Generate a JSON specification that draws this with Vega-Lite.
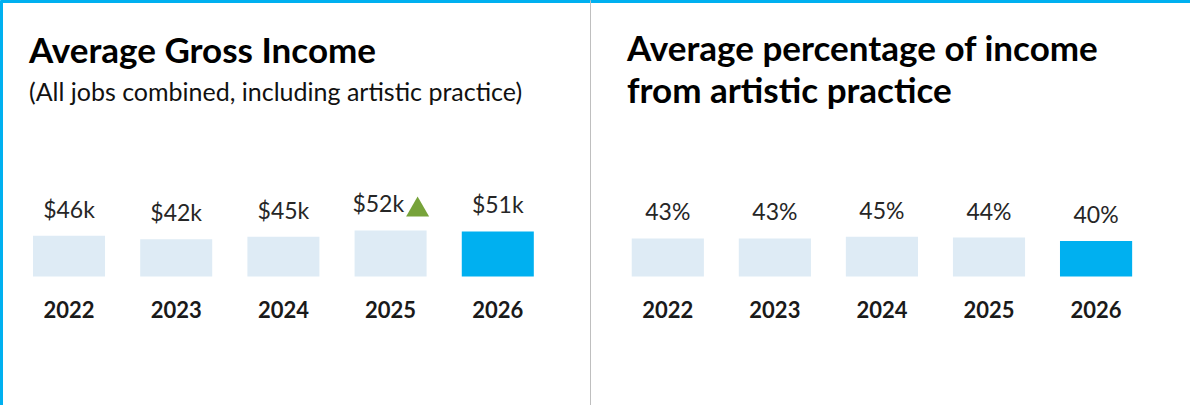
{
  "$schema": "https://vega.github.io/schema/vega-lite/v6.json",
  "background": "white",
  "padding": 0,
  "bounds": "flush",
  "spacing": 0,
  "config": {"view": {"stroke": null}, "font": "Lato"},
  "datasets": {
    "income": [
      {"year": "2022", "value": 46, "label": "$46k", "status": "past", "trend": "none"},
      {"year": "2023", "value": 42, "label": "$42k", "status": "past", "trend": "none"},
      {"year": "2024", "value": 45, "label": "$45k", "status": "past", "trend": "none"},
      {"year": "2025", "value": 52, "label": "$52k", "status": "past", "trend": "up"},
      {"year": "2026", "value": 51, "label": "$51k", "status": "current", "trend": "none"}
    ],
    "share": [
      {"year": "2022", "value": 43, "label": "43%", "status": "past"},
      {"year": "2023", "value": 43, "label": "43%", "status": "past"},
      {"year": "2024", "value": 45, "label": "45%", "status": "past"},
      {"year": "2025", "value": 44, "label": "44%", "status": "past"},
      {"year": "2026", "value": 40, "label": "40%", "status": "current"}
    ]
  },
  "hconcat": [
    {
      "width": 590,
      "height": 410,
      "data": {"name": "income"},
      "title": {
        "text": "Average Gross Income",
        "subtitle": "(All jobs combined, including artistic practice)",
        "orient": "top",
        "anchor": "start",
        "frame": "group",
        "offset": -106,
        "dx": 29,
        "font": "Lato",
        "fontSize": 35,
        "fontWeight": "bold",
        "color": "#000000",
        "subtitleFont": "Lato",
        "subtitleFontSize": 25,
        "subtitleColor": "#111111",
        "subtitlePadding": 11
      },
      "layer": [
        {
          "mark": {"type": "bar"},
          "encoding": {
            "x": {
              "field": "year", "type": "ordinal",
              "scale": {"paddingInner": 0.328, "paddingOuter": 0.416, "align": 0.37},
              "axis": {"orient": "bottom", "title": null, "domain": false, "ticks": false, "tickSize": 0, "labelPadding": 0, "offset": -93, "labelBaseline": "alphabetic", "labelAngle": 0, "labelFont": "Lato", "labelFontSize": 22, "labelFontWeight": "bold", "labelColor": "#1a1a1a"}
            },
            "y": {
              "field": "value", "type": "quantitative",
              "scale": {"domain": [-150.8, 312.4], "nice": false, "zero": false},
              "axis": {"orient": "left", "title": null, "labels": false, "ticks": false, "grid": false, "domain": true, "domainColor": "#00B0F0", "domainWidth": 5}
            },
            "y2": {"datum": 0},
            "color": {"field": "status", "type": "nominal", "scale": {"domain": ["past", "current"], "range": ["#DEEBF5", "#00B0F0"]}, "legend": null}
          }
        },
        {
          "transform": [{"filter": "datum.trend != 'up'"}],
          "mark": {"type": "text", "baseline": "alphabetic", "dy": -18, "fontSize": 23, "font": "Lato", "color": "#262626"},
          "encoding": {
            "x": {"field": "year", "type": "ordinal", "axis": {"orient": "top", "title": null, "labels": false, "ticks": false, "grid": false, "domain": true, "domainColor": "#00B0F0", "domainWidth": 5}},
            "y": {"field": "value", "type": "quantitative", "axis": null},
            "text": {"field": "label"}
          }
        },
        {
          "transform": [{"filter": "datum.trend == 'up'"}],
          "mark": {"type": "text", "baseline": "alphabetic", "align": "right", "dx": 13.5, "dy": -18, "fontSize": 23, "font": "Lato", "color": "#262626"},
          "encoding": {
            "x": {"field": "year", "type": "ordinal", "axis": null},
            "y": {"field": "value", "type": "quantitative", "axis": null},
            "text": {"field": "label"}
          }
        },
        {
          "transform": [{"filter": "datum.trend == 'up'"}],
          "mark": {"type": "point", "shape": "triangle-up", "filled": true, "size": 529, "color": "#77A33A", "opacity": 1, "xOffset": 27, "yOffset": -24},
          "encoding": {
            "x": {"field": "year", "type": "ordinal", "axis": null},
            "y": {"field": "value", "type": "quantitative", "axis": null}
          }
        }
      ],
      "resolve": {"axis": {"x": "independent", "y": "independent"}}
    },
    {
      "width": 600,
      "height": 410,
      "data": {"name": "share"},
      "title": {
        "text": ["Average percentage of income", "from artistic practice"],
        "orient": "top",
        "anchor": "start",
        "frame": "group",
        "offset": -110,
        "dx": 37,
        "font": "Lato",
        "fontSize": 35,
        "fontWeight": "bold",
        "lineHeight": 42,
        "color": "#000000"
      },
      "layer": [
        {
          "mark": {"type": "bar"},
          "encoding": {
            "x": {
              "field": "year", "type": "ordinal",
              "scale": {"paddingInner": 0.326, "paddingOuter": 0.465, "align": 0.419},
              "axis": {"orient": "bottom", "title": null, "domain": false, "ticks": false, "tickSize": 0, "labelPadding": 0, "offset": -93, "labelBaseline": "alphabetic", "labelAngle": 0, "labelFont": "Lato", "labelFontSize": 22, "labelFontWeight": "bold", "labelColor": "#1a1a1a"}
            },
            "y": {
              "field": "value", "type": "quantitative",
              "scale": {"domain": [-150.8, 312.4], "nice": false, "zero": false},
              "axis": {"orient": "left", "title": null, "labels": false, "ticks": false, "grid": false, "domain": true, "domainColor": "#BFBFBF", "domainWidth": 1}
            },
            "y2": {"datum": 0},
            "color": {"field": "status", "type": "nominal", "scale": {"domain": ["past", "current"], "range": ["#DEEBF5", "#00B0F0"]}, "legend": null}
          }
        },
        {
          "mark": {"type": "text", "baseline": "alphabetic", "dy": -18, "fontSize": 23, "font": "Lato", "color": "#262626"},
          "encoding": {
            "x": {"field": "year", "type": "ordinal", "axis": {"orient": "top", "title": null, "labels": false, "ticks": false, "grid": false, "domain": true, "domainColor": "#00B0F0", "domainWidth": 5}},
            "y": {"field": "value", "type": "quantitative", "axis": null},
            "text": {"field": "label"}
          }
        }
      ],
      "resolve": {"axis": {"x": "independent", "y": "independent"}}
    }
  ]
}
